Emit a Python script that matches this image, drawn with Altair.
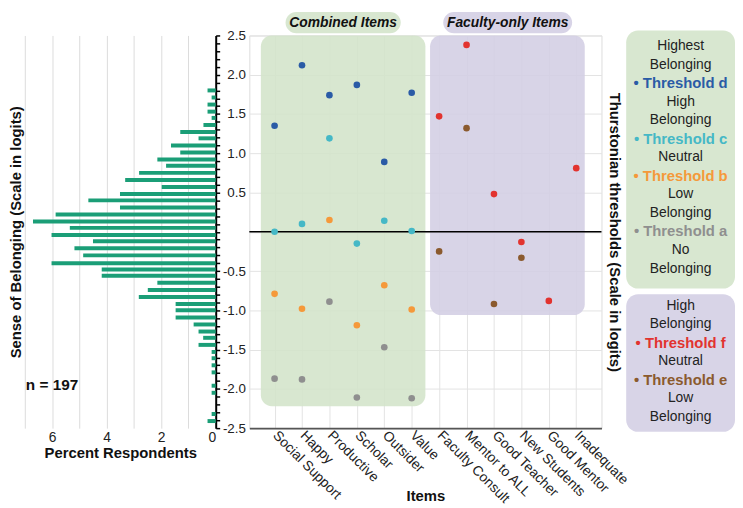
import altair as alt
import pandas as pd

# ---------------- data ----------------
items = ["Social Support", "Happy", "Productive", "Scholar", "Outsider", "Value",
         "Faculty Consult", "Mentor to ALL", "Good Teacher", "New Students",
         "Good Mentor", "Inadequate"]

# combined items (first six)
thr_d = [1.35, 2.12, 1.74, 1.87, 0.89, 1.77]
thr_c = [0.00, 0.10, 1.19, -0.15, 0.14, 0.01]
thr_b = [-0.79, -0.98, 0.15, -1.19, -0.68, -0.99]
thr_a = [-1.87, -1.88, -0.89, -2.11, -1.47, -2.12]
# faculty-only items (last six)
thr_f = [1.47, 2.38, 0.48, -0.13, -0.88, 0.81]
thr_e = [-0.25, 1.32, -0.92, -0.33, None, None]

hist_logit = [1.80, 1.71, 1.62, 1.53, 1.45, 1.36, 1.27, 1.19, 1.10, 1.01,
              0.92, 0.84, 0.75, 0.66, 0.57, 0.48, 0.40, 0.31, 0.22, 0.13,
              0.05, -0.04, -0.12, -0.21, -0.30, -0.40, -0.48, -0.56, -0.65, -0.74,
              -0.83, -0.92, -1.00, -1.09, -1.18, -1.27, -1.35, -1.44,
              -1.53, -1.61, -1.70, -1.79, -1.96, -2.05, -2.32, -2.41]
hist_pct = [0.30, 0.15, 0.30, 0.30, 0.15, 0.45, 1.30, 0.63, 1.64, 1.30,
            2.14, 1.82, 2.81, 3.32, 1.98, 3.51, 4.67, 3.51, 5.87, 6.70,
            5.35, 6.02, 4.50, 5.18, 4.86, 6.02, 4.18, 4.18, 2.14, 2.49,
            2.82, 1.47, 1.47, 1.47, 0.81, 0.63, 0.46, 0.63,
            0.15, 0.15, 0.15, 0.15, 0.15, 0.15, 0.15, 0.30]
n_label = "n = 197"

threshold_names = ["Threshold d", "Threshold c", "Threshold b", "Threshold a",
                   "Threshold f", "Threshold e"]
threshold_colors = ["#2a5ba6", "#45b8c6", "#f5993a", "#8f8f8f", "#e2332f", "#8b5a2e"]

group_labels = ["Combined Items", "Faculty-only Items"]

legend_green = [("Highest", None), ("Belonging", None), ("\u2022 Threshold d", "Threshold d"),
                ("High", None), ("Belonging", None), ("\u2022 Threshold c", "Threshold c"),
                ("Neutral", None), ("\u2022 Threshold b", "Threshold b"),
                ("Low", None), ("Belonging", None), ("\u2022 Threshold a", "Threshold a"),
                ("No", None), ("Belonging", None)]
legend_purple = [("High", None), ("Belonging", None), ("\u2022 Threshold f", "Threshold f"),
                 ("Neutral", None), ("\u2022 Threshold e", "Threshold e"),
                 ("Low", None), ("Belonging", None)]

# ---------------- styling ----------------
FONT = "Liberation Sans"
GREEN = "#d8e7d0"
PURPLE = "#d8d4e7"
GREEN_T = "#d3e4ca"
PURPLE_T = "#d3cee4"
TXT = "#222222"
H = 397
HW = 193
SW = 356
LW = 101

# ---------------- tables ----------------
rows = []
for name, vals, off in [("Threshold d", thr_d, 0), ("Threshold c", thr_c, 0),
                        ("Threshold b", thr_b, 0), ("Threshold a", thr_a, 0),
                        ("Threshold f", thr_f, 6), ("Threshold e", thr_e, 6)]:
    for i, v in enumerate(vals):
        if v is None:
            continue
        rows.append({"idx": off + i + 1, "item": items[off + i], "threshold": name, "value": v})
pts = pd.DataFrame(rows)

hist_df = pd.DataFrame({"logit": hist_logit, "pct": hist_pct})
n_df = pd.DataFrame({"pct": [7.0], "logit": [-1.95], "label": [n_label]})

bg_df = pd.DataFrame({"idx": [0.5, 6.67], "idx2": [6.5, 12.31],
                      "value": [-2.22, -1.06], "value2": [2.5, 2.5],
                      "fill": [GREEN_T, PURPLE_T]})
pill_df = pd.DataFrame({"idx": [1.4, 7.15], "idx2": [5.6, 11.85],
                        "value": [2.527, 2.527], "value2": [2.80, 2.80],
                        "xc": [3.5, 9.5], "yc": [2.663, 2.663],
                        "label": group_labels, "fill": [GREEN, PURPLE]})
zero_df = pd.DataFrame({"value": [0.0]})

cmap = dict(zip(threshold_names, threshold_colors))
leg_rows = []
for r, (t, k) in enumerate(legend_green):
    leg_rows.append({"row": r, "text": t, "color": cmap[k] if k else TXT, "bold": k is not None})
for r, (t, k) in enumerate(legend_purple):
    leg_rows.append({"row": 14 + r, "text": t, "color": cmap[k] if k else TXT, "bold": k is not None})
leg_df = pd.DataFrame(leg_rows)
leg_df["xc"] = 0.5
leg_box = pd.DataFrame({"x1": [0, 0], "x2": [1, 1], "r1": [-0.84, 13.38], "r2": [13.08, 20.8],
                        "fill": [GREEN, PURPLE]})

# ---------------- histogram ----------------
hx_scale = alt.Scale(domain=[0, 7], reverse=True, nice=False, zero=False)
hy_scale = alt.Scale(domain=[-2.5, 2.5], nice=False, zero=False)
hx_axis = alt.Axis(values=list(range(8)), labelExpr="datum.value % 2 == 0 ? datum.label : ''",
                   grid=True, gridColor="#dcdcdc", ticks=False, domain=False,
                   labelFontSize=14, labelPadding=3, labelColor=TXT,
                   title="Percent Respondents", titleFontSize=15, titleFontWeight="bold",
                   titlePadding=1, titleColor="#111")
hy_axis = alt.Axis(orient="right", values=[round(-2.5 + 0.1 * i, 1) for i in range(51)],
                   labels=False, grid=False, domain=True, domainColor="black", domainWidth=2,
                   ticks=True, tickColor="black", tickWidth=1.5, tickSize=4,
                   title="Sense of Belonging (Scale in logits)", titleFontSize=15,
                   titleFontWeight="bold", titleColor="#111", titleAngle=-90,
                   titleX=-HW - 1, titleY=H / 2, titleAlign="center", titleBaseline="bottom")

bars = alt.Chart(hist_df).mark_rule(strokeWidth=4, color="#1b9e77").encode(
    x=alt.X("pct:Q", scale=hx_scale, axis=hx_axis),
    x2=alt.datum(0),
    y=alt.Y("logit:Q", scale=hy_scale, axis=hy_axis),
)
ntext = alt.Chart(n_df).mark_text(align="left", baseline="middle", fontSize=15.5,
                                  fontWeight="bold", color="#111", dx=1).encode(
    x=alt.X("pct:Q", scale=hx_scale, axis=hx_axis),
    y=alt.Y("logit:Q", scale=hy_scale, axis=hy_axis),
    text="label:N",
)
hist = alt.layer(bars, ntext).properties(width=HW, height=H)

# ---------------- scatter ----------------
sx_scale = alt.Scale(domain=[0.08, 12.92], nice=False, zero=False)
sy_scale = alt.Scale(domain=[-2.5, 2.5], nice=False, zero=False)
item_expr = "[" + ",".join("'" + s + "'" for s in items) + "][datum.value - 1]"
sx_axis = alt.Axis(values=list(range(1, 13)), labelExpr=item_expr, labelAngle=45,
                   labelAlign="left", labelBaseline="middle", labelFontSize=14,
                   labelColor=TXT, labelPadding=5, labelOverlap=False, labelBound=False,
                   ticks=False, domain=True,
                   domainColor="#555555", domainWidth=2, grid=True, gridColor="#e3e3e3",
                   title="Items", titleFontSize=15, titleFontWeight="bold", titleColor="#111",
                   titleX=SW / 2, titleY=68, titleAlign="center", titleBaseline="middle")
sy_axis = alt.Axis(values=[-2.5, -2, -1.5, -1, -0.5, 0, 0.5, 1, 1.5, 2, 2.5], format=".1f",
                   labelExpr="datum.value == 0 ? '' : replace(datum.label, '\u2212', '-')",
                   grid=True, gridColor="#e3e3e3", ticks=False, domain=False,
                   labelFontSize=13.5, labelColor=TXT, labelPadding=4,
                   labelOverlap=False, labelBound=False,
                   title="Thurstonian thresholds (Scale in logits)", titleFontSize=15,
                   titleFontWeight="bold", titleColor="#111", titleAngle=90,
                   titleX=SW + 5, titleY=H / 2, titleAlign="center", titleBaseline="bottom")

X = lambda f: alt.X(f, scale=sx_scale, axis=sx_axis)
Y = lambda f: alt.Y(f, scale=sy_scale, axis=sy_axis)

bg = alt.Chart(bg_df).mark_rect(cornerRadius=11, opacity=0.88).encode(
    x=X("idx:Q"), x2="idx2:Q", y=Y("value:Q"), y2="value2:Q",
    color=alt.Color("fill:N", scale=None))
pill = alt.Chart(pill_df).mark_rect(cornerRadius=11).encode(
    x=X("idx:Q"), x2="idx2:Q", y=Y("value:Q"), y2="value2:Q",
    color=alt.Color("fill:N", scale=None))
pill_text = alt.Chart(pill_df).mark_text(fontSize=14, fontWeight="bold", fontStyle="italic",
                                         color="#111", baseline="middle").encode(
    x=X("xc:Q"), y=Y("yc:Q"), text="label:N")
zero = alt.Chart(zero_df).mark_rule(color="black", strokeWidth=1.5).encode(y=Y("value:Q"))
points = alt.Chart(pts).mark_circle(size=45, opacity=1).encode(
    x=X("idx:Q"), y=Y("value:Q"),
    color=alt.Color("threshold:N", scale=alt.Scale(domain=threshold_names,
                                                   range=threshold_colors), legend=None))
scatter = alt.layer(bg, pill, pill_text, zero, points).properties(
    width=SW, height=H, view=alt.ViewBackground(stroke="#dddddd"))

# ---------------- legend panel ----------------
lx_scale = alt.Scale(domain=[0.0818, 1], nice=False, zero=False)
ly_scale = alt.Scale(domain=[-0.571, 20.603], reverse=True, nice=False, zero=False)
lbox = alt.Chart(leg_box).mark_rect(cornerRadius=12).encode(
    x=alt.X("x1:Q", scale=lx_scale, axis=None), x2="x2:Q",
    y=alt.Y("r1:Q", scale=ly_scale, axis=None), y2="r2:Q",
    color=alt.Color("fill:N", scale=None))
ltext = alt.Chart(leg_df).transform_filter("!datum.bold").mark_text(
    fontSize=14, baseline="middle").encode(
    x=alt.X("xc:Q", scale=lx_scale, axis=None),
    y=alt.Y("row:Q", scale=ly_scale, axis=None),
    text="text:N", color=alt.Color("color:N", scale=None))
lbold = alt.Chart(leg_df).transform_filter("datum.bold").mark_text(
    fontSize=15, fontWeight="bold", baseline="middle").encode(
    x=alt.X("xc:Q", scale=lx_scale, axis=None),
    y=alt.Y("row:Q", scale=ly_scale, axis=None),
    text="text:N", color=alt.Color("color:N", scale=None))
legend = alt.layer(lbox, ltext, lbold).properties(width=LW, height=H)

chart = alt.hconcat(hist, scatter, legend, spacing=34, bounds="flush").properties(
    padding=0
).configure(font=FONT).configure_view(stroke=None)

chart.save("out.html", embed_options={"renderer": "svg", "actions": False})
